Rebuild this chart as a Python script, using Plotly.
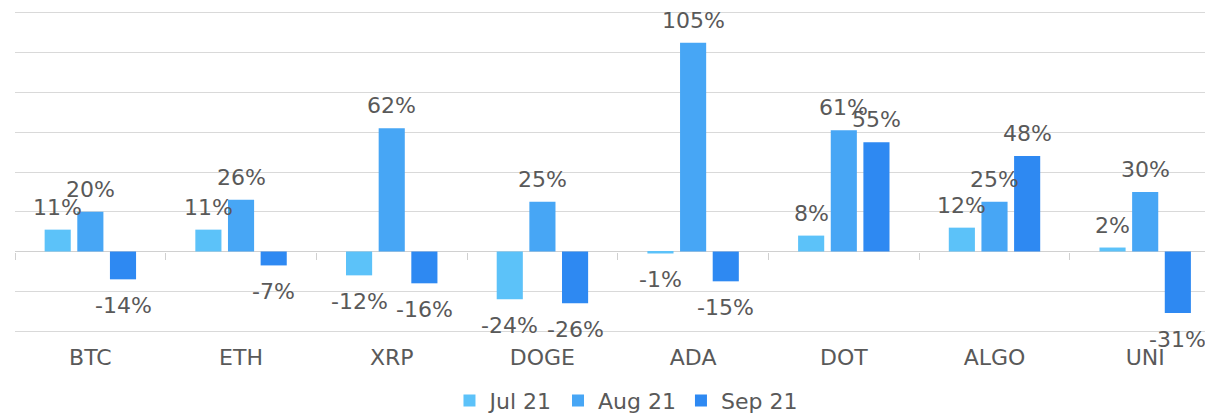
import plotly.graph_objects as go

coins = ["BTC", "ETH", "XRP", "DOGE", "ADA", "DOT", "ALGO", "UNI"]
months = ["Jul 21", "Aug 21", "Sep 21"]
jul = [11, 11, -12, -24, -1, 8, 12, 2]
aug = [20, 26, 62, 25, 105, 61, 25, 30]
sep = [-14, -7, -16, -26, -15, 55, 48, -31]
colors = ["#5CC2F9", "#47A6F5", "#2E89F2"]

BARGAP = 0.35
FONT = "DejaVu Sans"
GREY = "#595959"
Y_MIN, Y_MAX = -41, 121

fig = go.Figure()
series = [jul, aug, sep]
for name, vals, col in zip(months, series, colors):
    fig.add_trace(go.Bar(x=coins, y=vals, name=name, marker_color=col,
                         marker_line_width=0, hoverinfo="x+y"))

# invisible trace so the zero-line tick axis has its categories
fig.add_trace(go.Scatter(x=coins, y=[None] * len(coins), xaxis="x2",
                         showlegend=False, hoverinfo="skip"))

# data labels, placed from the values through the axes
slot = (1 - BARGAP) / 3
for k, vals in enumerate(series):
    for i, v in enumerate(vals):
        fig.add_annotation(x=i + (k - 1) * slot, y=v, xref="x", yref="y",
                           text=f"{v}%", showarrow=False,
                           yanchor="bottom" if v >= 0 else "top",
                           yshift=8 if v >= 0 else -12,
                           font=dict(family=FONT, size=22, color=GREY))

# the page body adds 8px around the figure, so the figure is 8px smaller
fig.update_layout(
    width=1205, height=409,
    margin=dict(l=7, r=0, t=3, b=84, autoexpand=False),
    plot_bgcolor="white", paper_bgcolor="white",
    barmode="group", bargap=BARGAP, bargroupgap=0.2,
    font=dict(family=FONT, size=22, color=GREY),
    legend=dict(orientation="h", x=0.51, xanchor="center", y=-0.21, yanchor="middle",
                font=dict(size=22, color=GREY), itemwidth=30, tracegroupgap=0),
    xaxis=dict(type="category", range=[-0.5, 7.45], showgrid=False,
               showline=False, ticks="", ticklabelstandoff=9,
               tickfont=dict(size=22, color=GREY)),
    xaxis2=dict(type="category", overlaying="x", matches="x", anchor="free",
                position=(0 - Y_MIN) / (Y_MAX - Y_MIN), side="bottom",
                showticklabels=False, showgrid=False,
                showline=False, ticks="outside", tickson="boundaries",
                ticklen=7, tickcolor="#D0D0D0", tickwidth=1),
    yaxis=dict(range=[Y_MIN, Y_MAX], tickvals=[-40, -20, 0, 20, 40, 60, 80, 100, 120],
               showgrid=True, gridcolor="#D9D9D9",
               gridwidth=1, zeroline=True, zerolinecolor="#D0D0D0", zerolinewidth=1,
               showticklabels=False, ticks=""),
)

fig.write_html("out.html")
